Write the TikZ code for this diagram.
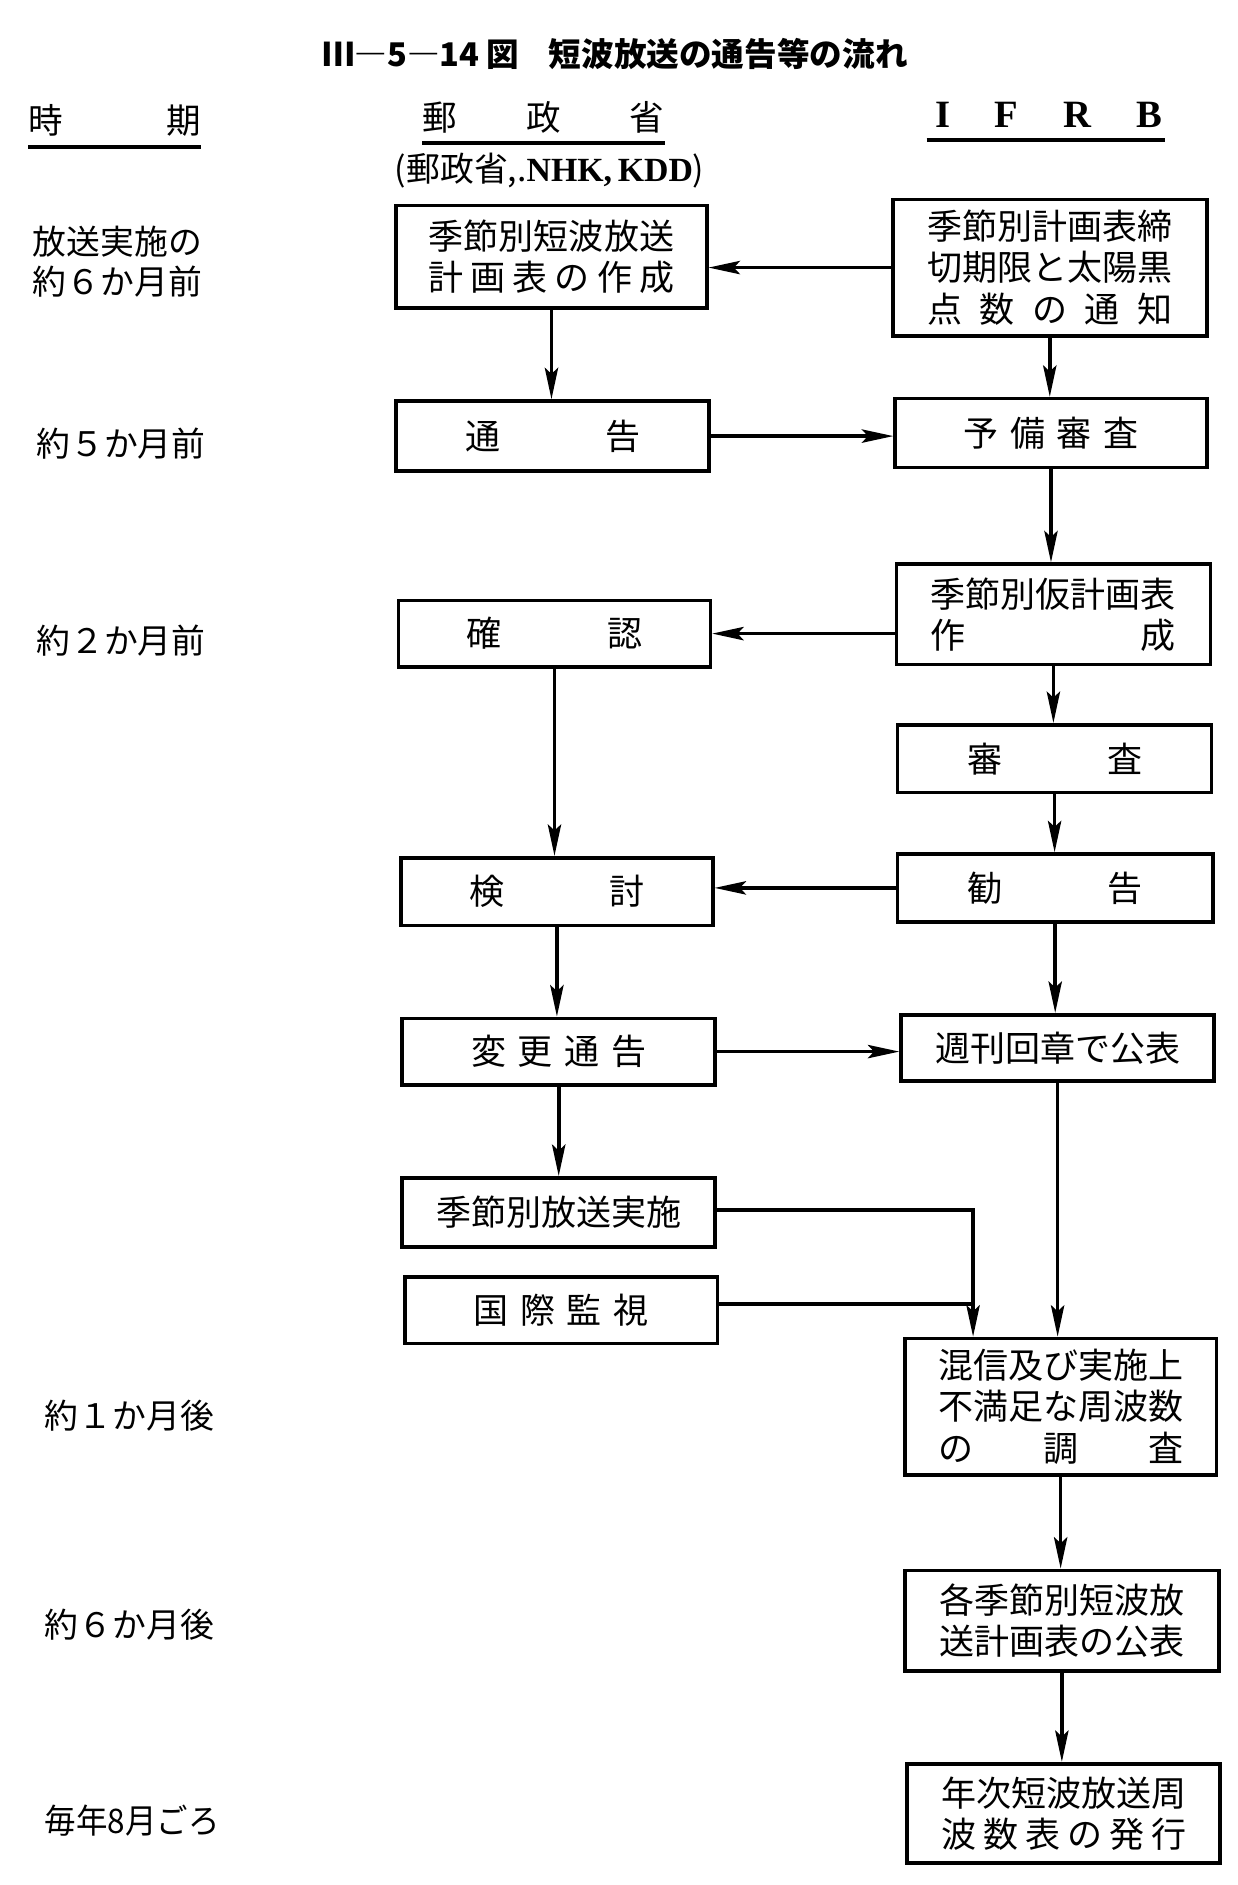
\documentclass[tikz,border=0pt]{standalone}
\usepackage{fontspec}
\setmainfont{Noto Sans CJK JP}
\newfontfamily\ser{Liberation Serif}
\usetikzlibrary{arrows.meta}
\newcommand\W[2]{\makebox[#1em][s]{#2}}
\tikzset{
  box/.style={draw, line width=3pt, inner sep=0pt, align=center,
              font=\fontsize{29}{34}\selectfont},
  arr/.style={line width=3pt, -{Stealth[length=26pt,width=11pt,inset=5pt]}},
  ln/.style={line width=3pt},
  uline/.style={line width=3pt},
  lbl/.style={anchor=west, inner sep=0pt, align=left,
              font=\fontsize{28}{33}\selectfont},
  hdr/.style={inner sep=0pt, font=\fontsize{28.6}{30}\selectfont},
}
\begin{document}
\begin{tikzpicture}[x=1pt,y=-1pt]
\fill[white] (0,0) rectangle (1024,1560.4);
\useasboundingbox (0,0) rectangle (1024,1560.4);

% title
\node[inner sep=0pt, font=\bfseries\fontsize{27}{30}\selectfont] (title) at (509,45)
  {Ⅲ―5―14 図\hspace{0.9em}短波放送の通告等の流れ};

% headers
\node[hdr] (h1) at (95,100) {\W{5}{時\hfill 期}};
\draw[uline] ([yshift=-8pt]h1.south west) -- ([yshift=-8pt]h1.south east);
\node[hdr] (h2) at (450,97) {\W{7}{郵\hfill 政\hfill 省}};
\draw[uline] ([yshift=-8pt]h2.south west) -- ([yshift=-8pt]h2.south east);
\node[inner sep=0pt, font=\fontsize{28}{29}\selectfont] (h2b) at (455,141)
  {(郵政省,.{\ser\bfseries NHK,\,KDD})};
\node[inner sep=0pt, font=\ser\bfseries\fontsize{32}{32}\selectfont] (h3) at (868,95)
  {\makebox[188pt][s]{I\hfill F\hfill R\hfill B}};
\coordinate (u3a) at (767,116);
\coordinate (u3b) at (964,116);
\draw[uline] (u3a) -- (u3b);

% time labels
\node[lbl] (t1) at (27,216.5) {放送実施の\\約６か月前};
\node[lbl] (t2) at (30,367) {約５か月前};
\node[lbl] (t3) at (30,530) {約２か月前};
\node[lbl] (t4) at (37,1172) {約１か月後};
\node[lbl] (t5) at (37,1345) {約６か月後};
\node[lbl] (t6) at (37,1507) {\scalebox{0.93}[1]{毎年8月ごろ}};

% left column
\node[box, minimum width=257pt, minimum height=85pt] (L1) at (456.5,212.5)
  {季節別短波放送\\\W{7}{計\hfill 画\hfill 表\hfill の\hfill 作\hfill 成}};
\node[box, minimum width=259pt, minimum height=58pt] (L2) at (457.5,361)
  {\W{5}{通\hfill 告}};
\node[box, minimum width=258pt, minimum height=55pt] (L3) at (459,524.5)
  {\W{5}{確\hfill 認}};
\node[box, minimum width=258pt, minimum height=56pt] (L4) at (461,738)
  {\W{5}{検\hfill 討}};
\node[box, minimum width=259pt, minimum height=55pt] (L5) at (462.5,870.5)
  {\W{5}{変\hfill 更\hfill 通\hfill 告}};
\node[box, minimum width=259pt, minimum height=57pt] (L6) at (462.5,1003.5)
  {季節別放送実施};
\node[box, minimum width=259pt, minimum height=55pt] (L7) at (464.5,1084.5)
  {\W{5}{国\hfill 際\hfill 監\hfill 視}};

% right column
\node[box, minimum width=260pt, minimum height=113pt] (R1) at (869,221.5)
  {季節別計画表締\\切期限と太陽黒\\\W{7}{点\hfill 数\hfill の\hfill 通\hfill 知}};
\node[box, minimum width=258pt, minimum height=57pt] (R2) at (870,358.5)
  {\W{5}{予\hfill 備\hfill 審\hfill 査}};
\node[box, minimum width=260pt, minimum height=83pt] (R3) at (872,508.5)
  {季節別仮計画表\\\W{7}{作\hfill 成}};
\node[box, minimum width=260pt, minimum height=56pt] (R4) at (873,628)
  {\W{5}{審\hfill 査}};
\node[box, minimum width=261pt, minimum height=56pt] (R5) at (873.5,735)
  {\W{5}{勧\hfill 告}};
\node[box, minimum width=259pt, minimum height=55pt] (R6) at (875.5,867.5)
  {週刊回章で公表};
\node[box, minimum width=258pt, minimum height=113pt] (R7) at (878,1164.5)
  {混信及び実施上\\不満足な周波数\\\W{7}{の\hfill 調\hfill 査}};
\node[box, minimum width=260pt, minimum height=83pt] (R8) at (879,1341.5)
  {各季節別短波放\\送計画表の公表};
\node[box, minimum width=259pt, minimum height=82pt] (R9) at (880.5,1501)
  {年次短波放送周\\\W{7}{波\hfill 数\hfill 表\hfill の\hfill 発\hfill 行}};

% connectors
\draw[arr] (R1.west) -- (R1.west -| L1.east);
\draw[arr] (L1.south) -- (L1.south |- L2.north);
\draw[arr] (R1.south) -- (R1.south |- R2.north);
\draw[arr] (L2.east) -- (L2.east -| R2.west);
\draw[arr] (R2.south) -- (R2.south |- R3.north);
\draw[arr] (L3.east -| R3.west) -- (L3.east);
\draw[arr] (R3.south) -- (R3.south |- R4.north);
\draw[arr] (L3.south) -- (L3.south |- L4.north);
\draw[arr] (R4.south) -- (R4.south |- R5.north);
\draw[arr] (R5.west) -- (R5.west -| L4.east);
\draw[arr] (L4.south) -- (L4.south |- L5.north);
\draw[arr] (R5.south) -- (R5.south |- R6.north);
\draw[arr] (L5.east) -- (L5.east -| R6.west);
\draw[arr] (L5.south) -- (L5.south |- L6.north);
\draw[arr] (R6.south) -- (R6.south |- R7.north);
\coordinate (J) at ([xshift=58pt]R7.north west);
\draw[arr] ([yshift=2pt]L6.east) -| (J);
\draw[ln] ([yshift=5pt]L7.east) -- ([yshift=5pt]L7.east -| J);
\draw[arr] (R7.south) -- (R7.south |- R8.north);
\draw[arr] (R8.south) -- (R8.south |- R9.north);
\end{tikzpicture}
\end{document}
